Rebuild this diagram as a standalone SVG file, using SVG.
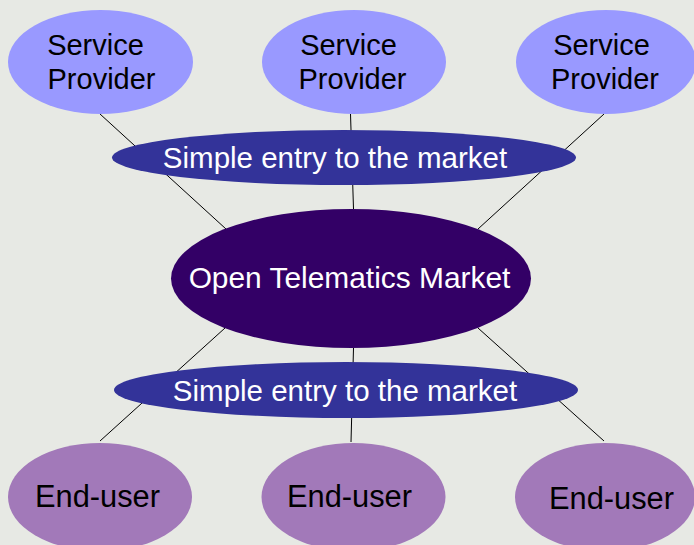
<svg xmlns="http://www.w3.org/2000/svg" width="694" height="545" viewBox="0 0 694 545">
  <style>
    text { font-family: "Liberation Sans", Arial, sans-serif; text-anchor: middle; }
    .provider { fill: #9999ff; }
    .band { fill: #333399; }
    .market { fill: #330066; }
    .user { fill: #a279b9; }
    .dark { fill: #000000; font-size: 29px; }
    .user-label { fill: #000000; font-size: 30.8px; }
    .light { fill: #ffffff; font-size: 29.5px; }
    .title { fill: #ffffff; font-size: 29.9px; }
    .link { stroke: #000000; stroke-width: 1; fill: none; }
  </style>
  <rect width="694" height="545" fill="#e7e9e4"/>

  <!-- connectors sit beneath all ellipses -->
  <g id="connectors">
    <line class="link" x1="100" y1="114" x2="226" y2="229"/>
    <line class="link" x1="350.5" y1="114" x2="353.5" y2="209"/>
    <line class="link" x1="604" y1="114" x2="478" y2="229"/>
    <line class="link" x1="225" y1="328" x2="100" y2="441"/>
    <line class="link" x1="353.5" y1="348" x2="351" y2="442"/>
    <line class="link" x1="478" y1="328" x2="604" y2="441"/>
  </g>

  <g id="provider-1">
    <ellipse class="provider" cx="100.5" cy="62" rx="92.5" ry="52"/>
    <text class="dark" x="95.5" y="55">Service</text>
    <text class="dark" x="101.5" y="89">Provider</text>
  </g>
  <g id="provider-2">
    <ellipse class="provider" cx="354" cy="62" rx="92" ry="52"/>
    <text class="dark" x="348.5" y="55">Service</text>
    <text class="dark" x="352.5" y="89">Provider</text>
  </g>
  <g id="provider-3">
    <ellipse class="provider" cx="606" cy="62" rx="90" ry="52"/>
    <text class="dark" x="601.5" y="55">Service</text>
    <text class="dark" x="605" y="89">Provider</text>
  </g>

  <g id="entry-top">
    <ellipse class="band" cx="344" cy="157.5" rx="232" ry="27.5"/>
    <text class="light" x="335" y="168">Simple entry to the market</text>
  </g>

  <g id="market">
    <ellipse class="market" cx="351" cy="278.5" rx="180" ry="69.5"/>
    <text class="title" x="349.5" y="288">Open Telematics Market</text>
  </g>

  <g id="entry-bottom">
    <ellipse class="band" cx="346" cy="390" rx="232" ry="28"/>
    <text class="light" x="345" y="401">Simple entry to the market</text>
  </g>

  <g id="user-1">
    <ellipse class="user" cx="100" cy="497" rx="92" ry="54"/>
    <text class="user-label" x="97.5" y="507">End-user</text>
  </g>
  <g id="user-2">
    <ellipse class="user" cx="353.5" cy="497" rx="92" ry="54"/>
    <text class="user-label" x="349.5" y="507">End-user</text>
  </g>
  <g id="user-3">
    <ellipse class="user" cx="605" cy="497" rx="90" ry="54"/>
    <text class="user-label" x="611.5" y="509">End-user</text>
  </g>
</svg>
